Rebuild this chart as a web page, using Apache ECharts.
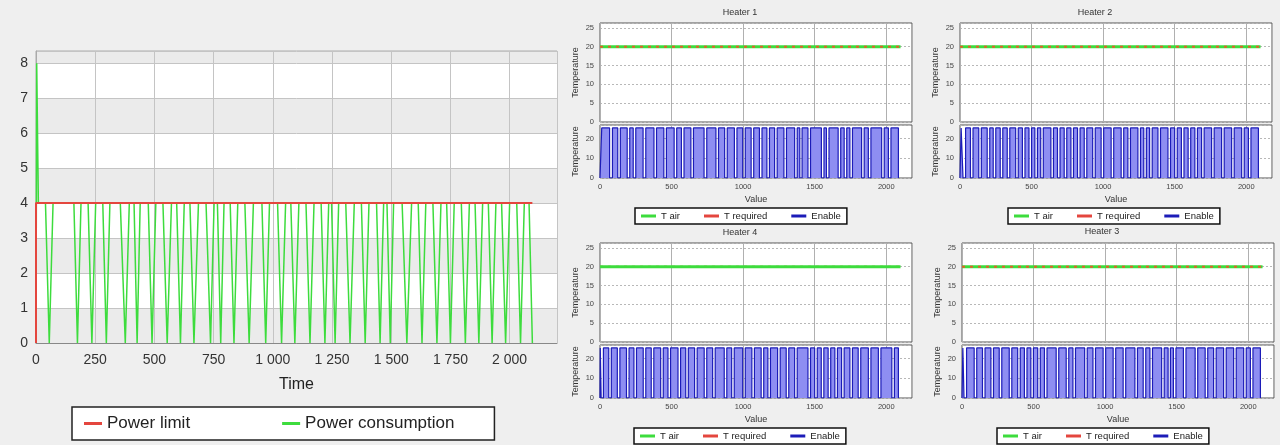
<!DOCTYPE html>
<html>
<head>
<meta charset="utf-8">
<script src="https://cdn.jsdelivr.net/npm/echarts@6/dist/echarts.min.js"></script>
<style>
    html, body { margin: 0; padding: 0; background: #efefef; }
    #chart { width: 1280px; height: 445px; }
</style>
</head>
<body>
<div id="chart"></div>
<script>
// ---- power panel ----
const powerTime = [0, 3, 10,
    40, 56, 72,
    160, 175, 190,
    220, 236, 252,
    282, 297, 312,
    356, 377, 394,
    414, 427, 440,
    474, 490, 506,
    536, 554, 572,
    594, 610, 626,
    650, 667, 686,
    718, 737, 752,
    766, 780, 794,
    820, 836, 852,
    882, 900, 918,
    954, 970, 986,
    1020, 1037, 1054,
    1076, 1093, 1110,
    1140, 1157, 1174,
    1204, 1220, 1236,
    1248, 1263, 1278,
    1308, 1326, 1344,
    1374, 1390, 1406,
    1438, 1453, 1468,
    1482, 1496, 1510,
    1546, 1566, 1586,
    1614, 1630, 1646,
    1676, 1693, 1710,
    1734, 1750, 1766,
    1796, 1813, 1830,
    1854, 1870, 1886,
    1910, 1926, 1942,
    1966, 1983, 2000,
    2030, 2046, 2062,
    2082, 2096];
const powerValue = [0, 8, 4,
    4, 0, 4,
    4, 0, 4,
    4, 0, 4,
    4, 0, 4,
    4, 0, 4,
    4, 0, 4,
    4, 0, 4,
    4, 0, 4,
    4, 0, 4,
    4, 0, 4,
    4, 0, 4,
    4, 0, 4,
    4, 0, 4,
    4, 0, 4,
    4, 0, 4,
    4, 0, 4,
    4, 0, 4,
    4, 0, 4,
    4, 0, 4,
    4, 0, 4,
    4, 0, 4,
    4, 0, 4,
    4, 0, 4,
    4, 0, 4,
    4, 0, 4,
    4, 0, 4,
    4, 0, 4,
    4, 0, 4,
    4, 0, 4,
    4, 0, 4,
    4, 0, 4,
    4, 0, 4,
    4, 0, 4,
    4, 0];
const limitTime = [0, 0, 2096];
const limitValue = [0, 4, 4];

// ---- heaters ----
const tempTime = [0, 2100];
const tAir = [20, 20];
const tRequired = [20, 20];

const enableHigh = 25.5;
const enableEnd = 2085;

const heater1On = 12;
const heater1Off = [[67, 87], [124, 142], [190, 208], [232, 250], [301, 320], [377, 395], [446, 464], [518, 536],
    [569, 587], [635, 653], [727, 746], [810, 828], [871, 889], [939, 957], [997, 1015], [1056, 1074],
    [1114, 1132], [1166, 1184], [1220, 1238], [1285, 1303], [1360, 1378], [1396, 1412], [1453, 1471],
    [1547, 1565], [1582, 1600], [1664, 1682], [1706, 1724], [1746, 1764], [1828, 1846], [1875, 1893],
    [1968, 1986], [2015, 2033]];

const heater2On = 8;
const heater2Off = [[21, 39], [73, 91], [131, 149], [190, 208], [232, 250], [281, 299], [330, 348], [389, 407],
    [436, 454], [482, 500], [523, 541], [564, 582], [635, 653], [681, 699], [728, 746], [775, 793],
    [821, 839], [868, 886], [927, 945], [986, 1004], [1056, 1074], [1126, 1144], [1173, 1191], [1243, 1261],
    [1284, 1302], [1325, 1343], [1383, 1401], [1453, 1471], [1500, 1518], [1547, 1565], [1594, 1612],
    [1641, 1659], [1688, 1706], [1758, 1776], [1828, 1846], [1898, 1916], [1968, 1986], [2015, 2033]];

const heater4On = 2;
const heater4Off = [[8, 24], [61, 79], [121, 139], [185, 203], [237, 255], [302, 320], [358, 376], [424, 442],
    [475, 493], [545, 563], [599, 617], [661, 679], [728, 746], [787, 805], [868, 886], [920, 938],
    [997, 1015], [1061, 1079], [1126, 1144], [1173, 1191], [1241, 1259], [1301, 1319], [1360, 1378],
    [1453, 1471], [1500, 1518], [1546, 1564], [1594, 1612], [1641, 1659], [1688, 1706], [1746, 1764],
    [1804, 1822], [1875, 1893], [1945, 1963], [2039, 2057]];

const heater3On = 6;
const heater3Off = [[14, 32], [85, 103], [143, 161], [202, 220], [260, 278], [330, 348], [389, 407], [436, 454],
    [481, 499], [529, 547], [576, 594], [658, 676], [728, 746], [775, 793], [857, 875], [915, 933],
    [986, 1004], [1056, 1074], [1126, 1144], [1208, 1226], [1266, 1284], [1313, 1331], [1395, 1413],
    [1440, 1456], [1477, 1495], [1547, 1565], [1629, 1647], [1699, 1717], [1758, 1776], [1828, 1846],
    [1898, 1916], [1968, 1986], [2015, 2033]];

const FONT = '"Liberation Sans", Arial, sans-serif';
const GREEN = '#3ddc3d';
const RED = '#e4463e';
const BLUE = '#1c1cb8';

function zip(xs, ys) {
    return xs.map((x, i) => [x, ys[i]]);
}

function enableData(onAt, offs) {
    const d = [[0, 0], [onAt, 0], [onAt, enableHigh]];
    offs.forEach(([a, b]) => {
        d.push([a, enableHigh], [a, 0], [b, 0], [b, enableHigh]);
    });
    d.push([enableEnd, enableHigh], [enableEnd, 0]);
    return d;
}

// layout of the four small panels
const heaters = [
    { title: 'Heater 1', titleX: 740, titleY: 8, left: 600, top: 23, legendX: 635, legendY: 208, on: heater1On, off: heater1Off, airOnTop: false },
    { title: 'Heater 2', titleX: 1095, titleY: 8, left: 960, top: 23, legendX: 1008, legendY: 208, on: heater2On, off: heater2Off, airOnTop: false },
    { title: 'Heater 4', titleX: 740, titleY: 228, left: 600, top: 243, legendX: 634, legendY: 428, on: heater4On, off: heater4Off, airOnTop: true },
    { title: 'Heater 3', titleX: 1102, titleY: 227, left: 962, top: 243, legendX: 997, legendY: 428, on: heater3On, off: heater3Off, airOnTop: false }
];

const grid = [{ left: 36, top: 51, width: 521, height: 292, show: true, borderColor: '#aaa', borderWidth: 1, backgroundColor: '#fff' }];
const xAxis = [{
    gridIndex: 0, type: 'value', min: 0, max: 2200, interval: 250,
    name: 'Time', nameLocation: 'middle', nameGap: 34,
    nameTextStyle: { fontSize: 16, color: '#222', fontFamily: FONT },
    axisLine: { lineStyle: { color: '#888' } },
    axisTick: { show: false },
    axisLabel: {
        fontSize: 14, color: '#333', fontFamily: FONT, margin: 10, showMaxLabel: false,
        formatter: v => v >= 1000 ? Math.floor(v / 1000) + ' ' + String(v % 1000).padStart(3, '0') : String(v)
    },
    splitLine: { lineStyle: { color: '#c4c4c4' } }
}];
const yAxis = [{
    gridIndex: 0, type: 'value', min: 0, max: 8.35, interval: 1,
    axisLine: { show: true, lineStyle: { color: '#aaa' } },
    axisTick: { show: false },
    axisLabel: { fontSize: 14, color: '#333', fontFamily: FONT, margin: 8, showMaxLabel: false },
    splitLine: { lineStyle: { color: '#c4c4c4' } },
    splitArea: { show: true, areaStyle: { color: ['#ebebeb', '#ffffff'] } }
}];
const series = [
    {
        name: 'Power consumption', type: 'line', xAxisIndex: 0, yAxisIndex: 0,
        data: zip(powerTime, powerValue), showSymbol: false,
        lineStyle: { color: GREEN, width: 1.5 }, itemStyle: { color: GREEN }
    },
    {
        name: 'Power limit', type: 'line', xAxisIndex: 0, yAxisIndex: 0,
        data: zip(limitTime, limitValue), showSymbol: false,
        lineStyle: { color: RED, width: 2 }, itemStyle: { color: RED }
    }
];
const title = [];
const legend = [{
    left: 72, top: 407, orient: 'horizontal',
    data: [{ name: 'Power limit', icon: 'rect' }, { name: 'Power consumption', icon: 'rect' }],
    itemWidth: 18, itemHeight: 3, itemGap: 92,
    padding: [8, 40, 8, 12],
    borderColor: '#222', borderWidth: 1.5, backgroundColor: '#fff',
    textStyle: { fontSize: 17, color: '#222', fontFamily: FONT }
}];

const smallLabel = { fontSize: 7.5, color: '#444', fontFamily: FONT };
const smallName = { fontSize: 9, color: '#333', fontFamily: FONT };

heaters.forEach((h, k) => {
    const gTop = grid.length;
    grid.push({ left: h.left, top: h.top, width: 312, height: 99, show: true, borderColor: '#555', borderWidth: 1, backgroundColor: '#fff' });
    grid.push({ left: h.left, top: h.top + 102, width: 312, height: 53, show: true, borderColor: '#555', borderWidth: 1, backgroundColor: '#fff' });
    xAxis.push({
        gridIndex: gTop, type: 'value', min: 0, max: 2180, interval: 500,
        axisLine: { show: false }, axisTick: { show: false }, axisLabel: { show: false },
        splitLine: { lineStyle: { color: '#b0b0b0' } }
    });
    xAxis.push({
        gridIndex: gTop + 1, type: 'value', min: 0, max: 2180, interval: 500,
        name: 'Value', nameLocation: 'middle', nameGap: 17, nameTextStyle: smallName,
        axisLine: { show: false }, axisTick: { show: false },
        axisLabel: Object.assign({ margin: 5, showMaxLabel: false, formatter: v => String(v) }, smallLabel),
        splitLine: { lineStyle: { color: '#b0b0b0' } }
    });
    yAxis.push({
        gridIndex: gTop, type: 'value', min: 0, max: 26.3, interval: 5,
        name: 'Temperature', nameLocation: 'middle', nameGap: 20, nameRotate: 90, nameTextStyle: smallName,
        axisLine: { show: false }, axisTick: { show: false },
        axisLabel: Object.assign({ margin: 6, showMaxLabel: false }, smallLabel),
        splitLine: { lineStyle: { color: '#b8b8b8', type: [2, 2] } }
    });
    yAxis.push({
        gridIndex: gTop + 1, type: 'value', min: 0, max: 27, interval: 10,
        name: 'Temperature', nameLocation: 'middle', nameGap: 20, nameRotate: 90, nameTextStyle: smallName,
        axisLine: { show: false }, axisTick: { show: false },
        axisLabel: Object.assign({ margin: 6, showMaxLabel: false }, smallLabel),
        splitLine: { lineStyle: { color: '#b8b8b8', type: [2, 2] } }
    });
    const air = {
        name: 'T air', type: 'line', xAxisIndex: gTop, yAxisIndex: gTop,
        data: zip(tempTime, tAir), showSymbol: false,
        lineStyle: { color: GREEN, width: 3 }, itemStyle: { color: GREEN }
    };
    const req = {
        name: 'T required', type: 'line', xAxisIndex: gTop, yAxisIndex: gTop,
        data: zip(tempTime, tRequired), showSymbol: false,
        lineStyle: { color: '#e0602a', width: 2, type: [3, 5] }, itemStyle: { color: RED }
    };
    if (h.airOnTop) series.push(req, air); else series.push(air, req);
    series.push({
        name: 'Enable', type: 'line', xAxisIndex: gTop + 1, yAxisIndex: gTop + 1,
        data: enableData(h.on, h.off), showSymbol: false,
        lineStyle: { color: BLUE, width: 1.2 }, itemStyle: { color: BLUE },
        areaStyle: { color: '#8e8ef2', opacity: 1 }
    });
    title.push({
        text: h.title, left: h.titleX, top: h.titleY, textAlign: 'center', padding: 0,
        textStyle: { fontSize: 9, fontWeight: 'normal', color: '#333', fontFamily: FONT }
    });
    legend.push({
        left: h.legendX, top: h.legendY,
        data: [{ name: 'T air', icon: 'rect' }, { name: 'T required', icon: 'rect' }, { name: 'Enable', icon: 'rect' }],
        itemWidth: 15, itemHeight: 3, itemGap: 24,
        padding: [3, 6, 3, 6],
        borderColor: '#111', borderWidth: 1.5, backgroundColor: '#fff',
        textStyle: { fontSize: 9.5, color: '#222', fontFamily: FONT }
    });
});

const chart = echarts.init(document.getElementById('chart'), null, { renderer: 'canvas' });
chart.setOption({
    animation: false,
    backgroundColor: '#efefef',
    title: title,
    legend: legend,
    grid: grid,
    xAxis: xAxis,
    yAxis: yAxis,
    series: series
});
</script>
</body>
</html>
